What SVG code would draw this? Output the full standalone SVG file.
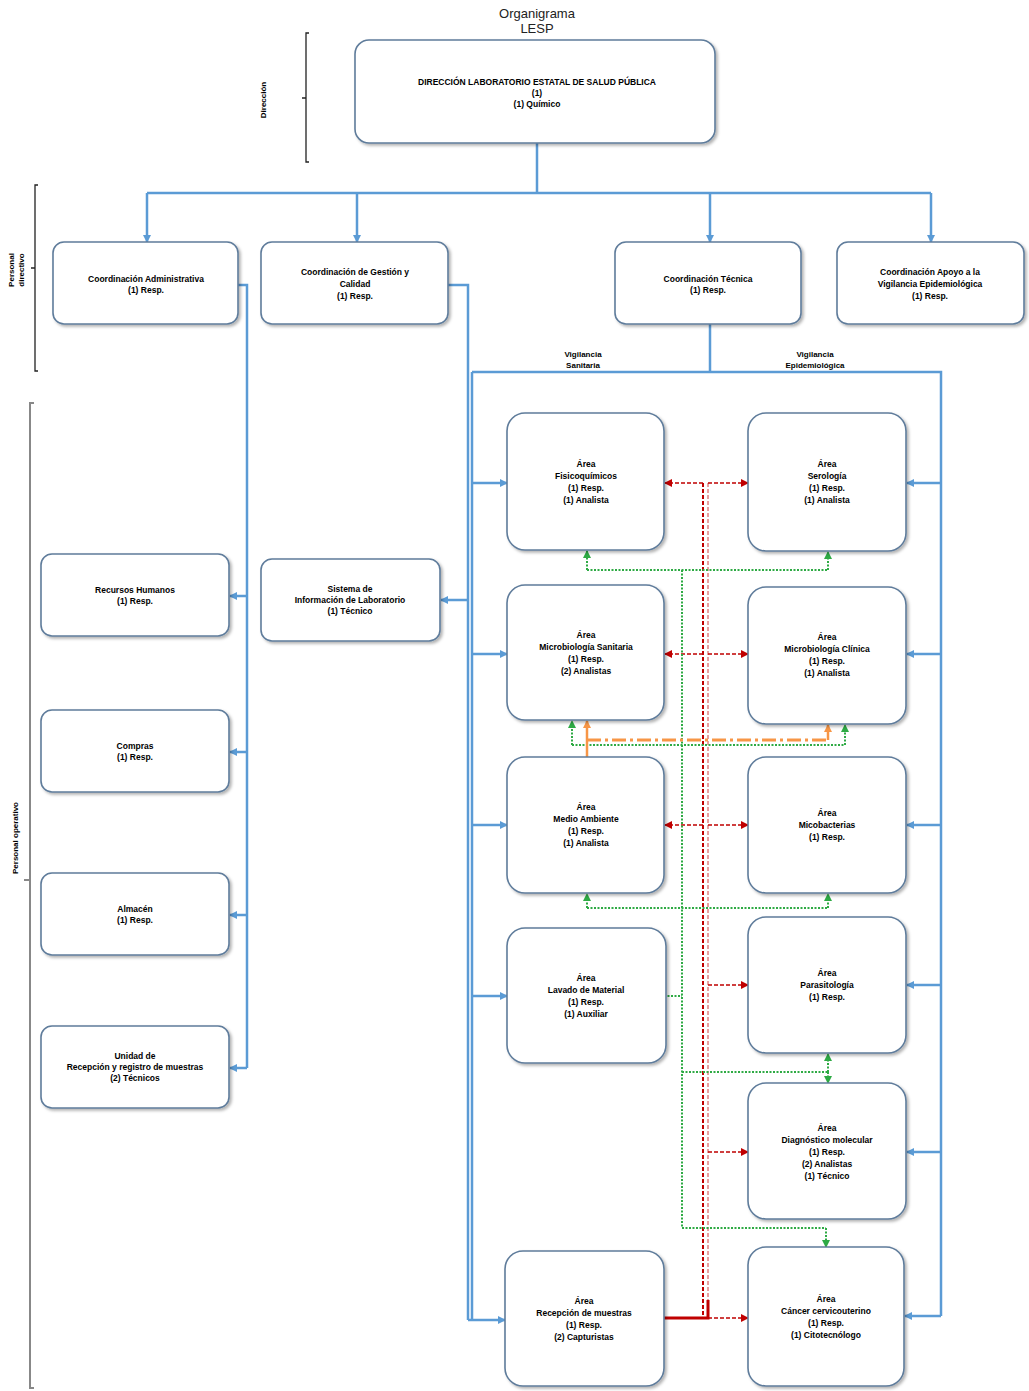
<svg xmlns="http://www.w3.org/2000/svg" width="1029" height="1391" viewBox="0 0 1029 1391">
<style>
.box{fill:#fff;stroke:#5f7c9b;stroke-width:1.6;filter:url(#sh)}
.t{font-family:"Liberation Sans",Arial,sans-serif;font-size:8.5px;font-weight:bold;fill:#000;text-anchor:middle}
.h{font-family:"Liberation Sans",Arial,sans-serif;font-size:13px;fill:#222;text-anchor:middle}
.lab{font-family:"Liberation Sans",Arial,sans-serif;font-size:8px;font-weight:bold;fill:#000;text-anchor:middle}
.br{fill:none;stroke:#222;stroke-width:1.3}
.bl{fill:none;stroke:#5b9bd5;stroke-width:2.5}
.bla{fill:none;stroke:#5b9bd5;stroke-width:2.5;marker-end:url(#ab)}
.rd{fill:none;stroke:#c00000;stroke-width:2;stroke-dasharray:4,2}
.rdl{fill:none;stroke:#e8a0a0;stroke-width:2;stroke-dasharray:4,2}
.rda{fill:none;stroke:#c00000;stroke-width:1.6;stroke-dasharray:4,2;marker-end:url(#ar)}
.gr{fill:none;stroke:#2eaa44;stroke-width:2;stroke-dasharray:2,1.5}
.gra{fill:none;stroke:#2eaa44;stroke-width:2;stroke-dasharray:2,1.5;marker-end:url(#ag)}
.or{fill:none;stroke:#f79646;stroke-width:3;stroke-dasharray:14,4,3,4}
.ora{fill:none;stroke:#f79646;stroke-width:2.5;marker-end:url(#ao)}
</style>
<defs>
<filter id="sh" x="-10%" y="-10%" width="125%" height="125%">
<feDropShadow dx="2" dy="2" stdDeviation="1.5" flood-color="#000" flood-opacity="0.3"/>
</filter>
<marker id="ab" markerWidth="8" markerHeight="8" refX="7" refY="4" orient="auto" markerUnits="userSpaceOnUse"><path d="M0,0 L8,4 L0,8 z" fill="#5b9bd5"/></marker>
<marker id="ar" markerWidth="8" markerHeight="8" refX="7" refY="4" orient="auto" markerUnits="userSpaceOnUse"><path d="M0,0 L8,4 L0,8 z" fill="#c00000"/></marker>
<marker id="ag" markerWidth="8" markerHeight="8" refX="7" refY="4" orient="auto" markerUnits="userSpaceOnUse"><path d="M0,0 L8,4 L0,8 z" fill="#2eaa44"/></marker>
<marker id="ao" markerWidth="8" markerHeight="8" refX="7" refY="4" orient="auto" markerUnits="userSpaceOnUse"><path d="M0,0 L8,4 L0,8 z" fill="#f79646"/></marker>
</defs>
<rect width="1029" height="1391" fill="#fff"/>

<g id="title">
<text class="h" x="537" y="18">Organigrama</text>
<text class="h" x="537" y="33">LESP</text>
</g>

<g id="brackets">
<path class="br" d="M309,33 H306 V162 H309 M306,98 H302"/>
<text class="lab" transform="translate(266,100) rotate(-90)">Dirección</text>
<path class="br" d="M38,185 H35 V371 H38 M35,268 H31"/>
<text class="lab" transform="translate(14,270) rotate(-90)">Personal</text>
<text class="lab" transform="translate(24,270) rotate(-90)">directivo</text>
<path d="M34,403 H30 V1388 H34 M30,880 H24" fill="none" stroke="#888" stroke-width="2"/>
<text class="lab" transform="translate(18,838) rotate(-90)">Personal operativo</text>
<text class="lab" x="583" y="357">Vigilancia</text>
<text class="lab" x="583" y="368">Sanitaria</text>
<text class="lab" x="815" y="357">Vigilancia</text>
<text class="lab" x="815" y="368">Epidemiológica</text>
</g>

<g id="connectors">
<path class="bl" d="M537,143 V193" stroke-width="3.5"/>
<path class="bl" d="M147,193 H931"/>
<path class="bla" d="M147,193 V242"/>
<path class="bla" d="M357,193 V242"/>
<path class="bla" d="M710,193 V242"/>
<path class="bla" d="M931,193 V242"/>
<path class="bl" d="M238,285 H247 V1068"/>
<path class="bla" d="M247,596 H230"/>
<path class="bla" d="M247,752 H230"/>
<path class="bla" d="M247,915 H230"/>
<path class="bla" d="M247,1068 H230"/>
<path class="bl" d="M448,285 H468 V1320"/>
<path class="bla" d="M468,600 H441"/>
<path class="bl" d="M710,324 V372"/>
<path class="bl" d="M472,372 H941 V1316" stroke-width="3"/>
<path class="bl" d="M472,372 V1320" stroke="#a9c8e8"/>
<path class="bla" d="M472,483 H507"/>
<path class="bla" d="M472,654 H507"/>
<path class="bla" d="M472,825 H507"/>
<path class="bla" d="M472,996 H507"/>
<path class="bla" d="M468,1320 H505"/>
<path class="bla" d="M941,483 H907"/>
<path class="bla" d="M941,654 H907"/>
<path class="bla" d="M941,825 H907"/>
<path class="bla" d="M941,985 H907"/>
<path class="bla" d="M941,1152 H907"/>
<path class="bla" d="M941,1316 H905"/>

<path class="rd" d="M703,483 V1318"/>
<path class="rdl" d="M708,483 V1318"/>
<path class="rda" d="M703,483 H665"/>
<path class="rda" d="M708,483 H748"/>
<path class="rda" d="M703,654 H665"/>
<path class="rda" d="M708,654 H748"/>
<path class="rda" d="M703,825 H665"/>
<path class="rda" d="M708,825 H748"/>
<path class="rda" d="M708,985 H748"/>
<path class="rda" d="M708,1152 H748"/>
<path class="rda" d="M708,1318 H748"/>
<path d="M664,1318 H708 V1300" fill="none" stroke="#c00000" stroke-width="3"/>

<path class="gr" d="M682,570 V1228"/>
<path class="gr" d="M587,570 H828"/>
<path class="gra" d="M587,570 V551"/>
<path class="gra" d="M828,570 V552"/>
<path class="gr" d="M572,745 H845"/>
<path class="gra" d="M572,745 V721"/>
<path class="gra" d="M845,745 V725"/>
<path class="gr" d="M587,908 H828"/>
<path class="gra" d="M587,908 V894"/>
<path class="gra" d="M828,908 V894"/>
<path class="gr" d="M664,996 H682"/>
<path class="gr" d="M682,1072 H828"/>
<path class="gra" d="M828,1072 V1054"/>
<path class="gra" d="M828,1072 V1083"/>
<path class="gr" d="M682,1228 H826"/>
<path class="gra" d="M826,1228 V1247"/>

<path class="or" d="M587,740 H828"/>
<path class="ora" d="M587,740 V721"/>
<path class="ora" d="M828,740 V725"/>
<path d="M587,740 V757" fill="none" stroke="#f79646" stroke-width="2.5"/>
</g>

<g id="n-direccion">
<rect class="box" x="355" y="40" width="360" height="103" rx="14"/>
<text class="t" x="537" y="85">DIRECCIÓN LABORATORIO ESTATAL DE SALUD PÚBLICA</text>
<text class="t" x="537" y="96">(1)</text>
<text class="t" x="537" y="107">(1) Químico</text>
</g>

<g id="n-coord-admin">
<rect class="box" x="53" y="242" width="185" height="82" rx="11"/>
<text class="t" x="146" y="282">Coordinación Administrativa</text>
<text class="t" x="146" y="293">(1) Resp.</text>
</g>
<g id="n-coord-gestion">
<rect class="box" x="261" y="242" width="187" height="82" rx="11"/>
<text class="t" x="355" y="275">Coordinación de Gestión y</text>
<text class="t" x="355" y="287">Calidad</text>
<text class="t" x="355" y="299">(1) Resp.</text>
</g>
<g id="n-coord-tecnica">
<rect class="box" x="615" y="242" width="186" height="82" rx="11"/>
<text class="t" x="708" y="282">Coordinación Técnica</text>
<text class="t" x="708" y="293">(1) Resp.</text>
</g>
<g id="n-coord-apoyo">
<rect class="box" x="837" y="242" width="187" height="82" rx="11"/>
<text class="t" x="930" y="275">Coordinación Apoyo a la</text>
<text class="t" x="930" y="287">Vigilancia Epidemiológica</text>
<text class="t" x="930" y="299">(1) Resp.</text>
</g>

<g id="n-rh">
<rect class="box" x="41" y="554" width="188" height="82" rx="11"/>
<text class="t" x="135" y="593">Recursos Humanos</text>
<text class="t" x="135" y="604">(1) Resp.</text>
</g>
<g id="n-compras">
<rect class="box" x="41" y="710" width="188" height="82" rx="11"/>
<text class="t" x="135" y="749">Compras</text>
<text class="t" x="135" y="760">(1) Resp.</text>
</g>
<g id="n-almacen">
<rect class="box" x="41" y="873" width="188" height="82" rx="11"/>
<text class="t" x="135" y="912">Almacén</text>
<text class="t" x="135" y="923">(1) Resp.</text>
</g>
<g id="n-recepcion-unidad">
<rect class="box" x="41" y="1026" width="188" height="82" rx="11"/>
<text class="t" x="135" y="1059">Unidad de</text>
<text class="t" x="135" y="1070">Recepción y registro de muestras</text>
<text class="t" x="135" y="1081">(2) Técnicos</text>
</g>
<g id="n-sistema">
<rect class="box" x="261" y="559" width="179" height="82" rx="11"/>
<text class="t" x="350" y="592">Sistema de</text>
<text class="t" x="350" y="603">Información de Laboratorio</text>
<text class="t" x="350" y="614">(1) Técnico</text>
</g>

<g id="n-fisicoquimicos">
<rect class="box" x="507" y="413" width="157" height="137" rx="18"/>
<text class="t" x="586" y="467">Área</text>
<text class="t" x="586" y="479">Fisicoquímicos</text>
<text class="t" x="586" y="491">(1) Resp.</text>
<text class="t" x="586" y="503">(1) Analista</text>
</g>
<g id="n-serologia">
<rect class="box" x="748" y="413" width="158" height="138" rx="18"/>
<text class="t" x="827" y="467">Área</text>
<text class="t" x="827" y="479">Serología</text>
<text class="t" x="827" y="491">(1) Resp.</text>
<text class="t" x="827" y="503">(1) Analista</text>
</g>
<g id="n-micro-sanitaria">
<rect class="box" x="507" y="585" width="157" height="135" rx="18"/>
<text class="t" x="586" y="638">Área</text>
<text class="t" x="586" y="650">Microbiología Sanitaria</text>
<text class="t" x="586" y="662">(1) Resp.</text>
<text class="t" x="586" y="674">(2) Analistas</text>
</g>
<g id="n-micro-clinica">
<rect class="box" x="748" y="587" width="158" height="137" rx="18"/>
<text class="t" x="827" y="640">Área</text>
<text class="t" x="827" y="652">Microbiología Clínica</text>
<text class="t" x="827" y="664">(1) Resp.</text>
<text class="t" x="827" y="676">(1) Analista</text>
</g>
<g id="n-medio-ambiente">
<rect class="box" x="507" y="757" width="157" height="136" rx="18"/>
<text class="t" x="586" y="810">Área</text>
<text class="t" x="586" y="822">Medio Ambiente</text>
<text class="t" x="586" y="834">(1) Resp.</text>
<text class="t" x="586" y="846">(1) Analista</text>
</g>
<g id="n-micobacterias">
<rect class="box" x="748" y="757" width="158" height="136" rx="18"/>
<text class="t" x="827" y="816">Área</text>
<text class="t" x="827" y="828">Micobacterias</text>
<text class="t" x="827" y="840">(1) Resp.</text>
</g>
<g id="n-lavado">
<rect class="box" x="507" y="928" width="159" height="135" rx="18"/>
<text class="t" x="586" y="981">Área</text>
<text class="t" x="586" y="993">Lavado de Material</text>
<text class="t" x="586" y="1005">(1) Resp.</text>
<text class="t" x="586" y="1017">(1) Auxiliar</text>
</g>
<g id="n-parasitologia">
<rect class="box" x="748" y="917" width="158" height="136" rx="18"/>
<text class="t" x="827" y="976">Área</text>
<text class="t" x="827" y="988">Parasitología</text>
<text class="t" x="827" y="1000">(1) Resp.</text>
</g>
<g id="n-molecular">
<rect class="box" x="748" y="1083" width="158" height="136" rx="18"/>
<text class="t" x="827" y="1131">Área</text>
<text class="t" x="827" y="1143">Diagnóstico molecular</text>
<text class="t" x="827" y="1155">(1) Resp.</text>
<text class="t" x="827" y="1167">(2) Analistas</text>
<text class="t" x="827" y="1179">(1) Técnico</text>
</g>
<g id="n-recepcion">
<rect class="box" x="505" y="1251" width="159" height="135" rx="18"/>
<text class="t" x="584" y="1304">Área</text>
<text class="t" x="584" y="1316">Recepción de muestras</text>
<text class="t" x="584" y="1328">(1) Resp.</text>
<text class="t" x="584" y="1340">(2) Capturistas</text>
</g>
<g id="n-citologia">
<rect class="box" x="748" y="1247" width="156" height="139" rx="18"/>
<text class="t" x="826" y="1302">Área</text>
<text class="t" x="826" y="1314">Cáncer cervicouterino</text>
<text class="t" x="826" y="1326">(1) Resp.</text>
<text class="t" x="826" y="1338">(1) Citotecnólogo</text>
</g>
</svg>
